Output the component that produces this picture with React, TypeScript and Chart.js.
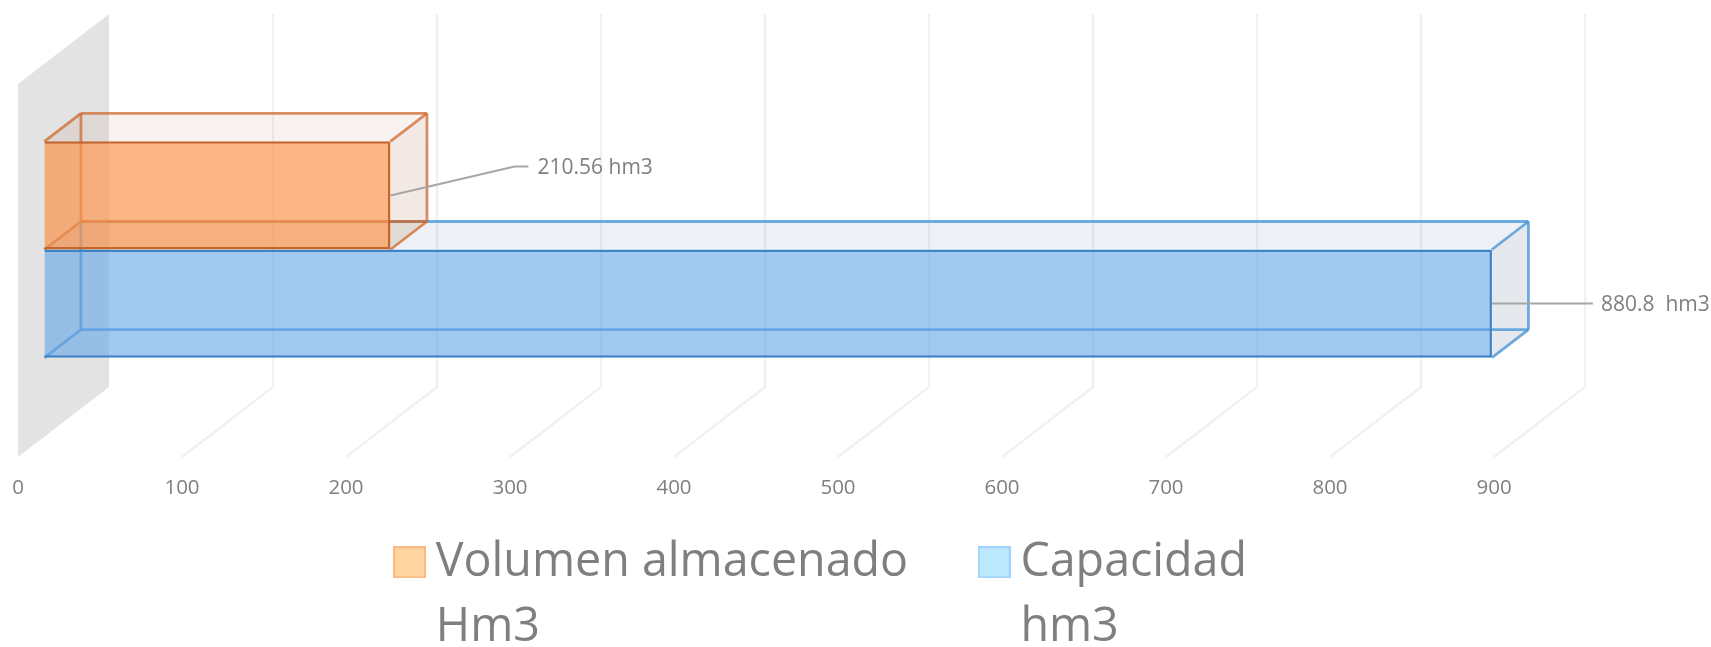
import React, { useEffect, useRef } from "react";
import { Chart, registerables } from "chart.js";

Chart.register(...registerables);

const categories = ["Embalse"];
const volumenName = ["Volumen almacenado", "Hm3"];
const capacidadName = ["Capacidad", "hm3"];
const volumenValues = [210.56];
const capacidadValues = [880.8];
const dataLabels = ["210.56 hm3", "880.8  hm3"];

const AXIS_MAX = 975.6;
const BAR_AXIS_MIN = -16.1;
const BAR_AXIS_MAX = 957.5;
const FONT = '"Open Sans"';
const DEPTH = { x: 36.5, y: -28 };
const WALL = { x: 91, y: -70, inX: 27, inY: 21 };
const LEGEND_PAD = 83;
const LEGEND_FONT = 46.6;

const STYLES = [
  {
    front: "rgba(251,150,80,0.7)",
    edge: "#c5652b",
    backEdge: "rgba(205,105,45,0.75)",
    top: "rgba(175,125,85,0.09)",
    side: "rgba(170,110,80,0.15)",
    left: "rgba(170,110,80,0.03)",
    bottom: "rgba(170,100,60,0.04)",
    legendFill: "#fed5a0",
    legendEdge: "#fbb985",
  },
  {
    front: "rgba(100,165,230,0.6)",
    edge: "#3f83c7",
    backEdge: "rgba(75,150,215,0.8)",
    top: "rgba(90,130,170,0.1)",
    side: "rgba(80,110,140,0.15)",
    left: "rgba(80,110,140,0.01)",
    bottom: "rgba(80,110,140,0)",
    legendFill: "#bde9fe",
    legendEdge: "#a2d3fc",
  },
];

// The legend measures its text by turning it into a string: measure the long first line only.
function legendLines(lines: string[]) {
  const copy: any = [...lines];
  copy.toString = () => lines[0];
  return copy;
}

function legendSwatch(fill: string, edge: string) {
  const c = document.createElement("canvas");
  c.width = 33;
  c.height = 32;
  const g = c.getContext("2d")!;
  g.fillStyle = fill;
  g.fillRect(0, 0, 33, 32);
  g.strokeStyle = edge;
  g.lineWidth = 2;
  g.strokeRect(1, 1, 31, 30);
  return c;
}

function poly(ctx: CanvasRenderingContext2D, pts: number[][], fill?: string) {
  ctx.beginPath();
  pts.forEach((p, i) => (i ? ctx.lineTo(p[0], p[1]) : ctx.moveTo(p[0], p[1])));
  ctx.closePath();
  if (fill) {
    ctx.fillStyle = fill;
    ctx.fill();
  }
}

function seg(ctx: CanvasRenderingContext2D, a: number[], b: number[]) {
  ctx.beginPath();
  ctx.moveTo(a[0], a[1]);
  ctx.lineTo(b[0], b[1]);
  ctx.stroke();
}

const scene3d = {
  id: "scene3d",
  beforeDraw(chart: any) {
    if (chart.legend) {
      chart.legend.top = 539 - LEGEND_PAD;
      chart.legend.bottom = 647;
      chart.legend.left = 406.5 - LEGEND_PAD;
    }
  },
  beforeDatasetsDraw(chart: any) {
    const { ctx, chartArea: area, scales } = chart;
    const x = scales.x;
    const top = area.top + WALL.inY;
    const bottom = area.bottom + WALL.inY;
    ctx.save();
    const x0 = x.getPixelForValue(0);
    poly(ctx, [[x0, top], [x0 + WALL.x, top + WALL.y], [x0 + WALL.x, bottom + WALL.y], [x0, bottom]], "#e3e3e3");
    ctx.strokeStyle = "#f1f1f1";
    ctx.lineWidth = 2.5;
    x.ticks.forEach((t: any) => {
      if (t.value === 0) return;
      const px = x.getPixelForValue(t.value);
      ctx.beginPath();
      ctx.moveTo(px, bottom);
      ctx.lineTo(px + WALL.x, bottom + WALL.y);
      ctx.lineTo(px + WALL.x, top + WALL.y);
      ctx.stroke();
    });
    [1, 0].forEach((i) => {
      const s = STYLES[i];
      const el = chart.getDatasetMeta(i).data[0];
      const l = el.base;
      const r = el.x;
      const t = el.y - el.height / 2;
      const b = el.y + el.height / 2;
      const d = DEPTH;
      poly(ctx, [[l, t], [r, t], [r + d.x, t + d.y], [l + d.x, t + d.y]], s.top);
      poly(ctx, [[r, t], [r + d.x, t + d.y], [r + d.x, b + d.y], [r, b]], s.side);
      poly(ctx, [[l, t], [l + d.x, t + d.y], [l + d.x, b + d.y], [l, b]], s.left);
      poly(ctx, [[l, b], [r, b], [r + d.x, b + d.y], [l + d.x, b + d.y]], s.bottom);
      ctx.strokeStyle = s.backEdge;
      ctx.lineWidth = 2.8;
      seg(ctx, [l + d.x, t + d.y], [r + d.x, t + d.y]);
      seg(ctx, [r + d.x, t + d.y], [r + d.x, b + d.y]);
      seg(ctx, [l + d.x, b + d.y], [r + d.x, b + d.y]);
      seg(ctx, [l + d.x, t + d.y], [l + d.x, b + d.y]);
      seg(ctx, [l, t], [l + d.x, t + d.y]);
      seg(ctx, [r, t], [r + d.x, t + d.y]);
      seg(ctx, [l, b], [l + d.x, b + d.y]);
      seg(ctx, [r, b], [r + d.x, b + d.y]);
    });
    ctx.restore();
  },
  afterDatasetsDraw(chart: any) {
    const { ctx } = chart;
    ctx.save();
    ctx.font = `21px ${FONT}`;
    ctx.textAlign = "left";
    ctx.textBaseline = "middle";
    ctx.lineWidth = 2;
    ctx.strokeStyle = "#a6a6a6";
    ctx.fillStyle = "#7f7f7f";
    const leaders = [
      { rise: -29, run: 124, elbow: 14, gap: 9 },
      { rise: 0, run: 50, elbow: 51, gap: 8 },
    ];
    dataLabels.forEach((label, i) => {
      const el = chart.getDatasetMeta(i).data[0];
      const o = leaders[i];
      ctx.beginPath();
      ctx.moveTo(el.x, el.y);
      ctx.lineTo(el.x + o.run, el.y + o.rise);
      ctx.lineTo(el.x + o.run + o.elbow, el.y + o.rise);
      ctx.stroke();
      ctx.fillText(label, el.x + o.run + o.elbow + o.gap, el.y + o.rise + 1.5);
    });
    ctx.restore();
  },
};

export default function App() {
  const ref = useRef<HTMLCanvasElement>(null);
  useEffect(() => {
    const chart = new Chart(ref.current!, {
      type: "bar",
      data: {
        labels: categories,
        datasets: [
          {
            label: volumenName.join(" "),
            data: volumenValues,
            xAxisID: "xBar",
            yAxisID: "y",
            backgroundColor: STYLES[0].front,
            borderColor: STYLES[0].edge,
            borderWidth: 2.5,
          },
          {
            label: capacidadName.join(" "),
            data: capacidadValues,
            xAxisID: "xBar",
            yAxisID: "y",
            backgroundColor: STYLES[1].front,
            borderColor: STYLES[1].edge,
            borderWidth: 2.5,
          },
        ],
      },
      options: {
        indexAxis: "y",
        responsive: false,
        animation: false,
        events: [],
        categoryPercentage: 0.58,
        barPercentage: 1,
        layout: { padding: { left: 18, right: 93, top: 63, bottom: 0 } },
        scales: {
          x: {
            type: "linear",
            position: "bottom",
            min: 0,
            max: AXIS_MAX,
            grid: { display: false, drawTicks: true, tickLength: 40 },
            border: { display: false },
            afterFit(scale: any) {
              // the legend's layout height is its font size + padding + 10
              scale.height = 211 - (LEGEND_FONT + LEGEND_PAD + 10);
            },
            ticks: {
              stepSize: 100,
              includeBounds: false,
              autoSkip: false,
              maxRotation: 0,
              padding: 0,
              color: "#7f7f7f",
              font: { family: FONT, size: 20.5 },
            },
          },
          xBar: {
            type: "linear",
            position: "bottom",
            display: false,
            min: BAR_AXIS_MIN,
            max: BAR_AXIS_MAX,
          },
          y: { type: "category", display: false },
        },
        plugins: {
          tooltip: { enabled: false },
          title: { display: false },
          legend: {
            display: true,
            position: "bottom",
            align: "start",
            fullSize: false,
            labels: {
              usePointStyle: true,
              pointStyleWidth: 6,
              boxWidth: 6,
              boxHeight: 32,
              padding: LEGEND_PAD,
              color: "#7f7f7f",
              font: { family: FONT, size: LEGEND_FONT, lineHeight: 1.395 },
              generateLabels: () =>
                [volumenName, capacidadName].map((lines, i) => ({
                  text: legendLines(lines),
                  fontColor: "#7f7f7f",
                  pointStyle: legendSwatch(STYLES[i].legendFill, STYLES[i].legendEdge),
                  datasetIndex: i,
                  hidden: false,
                })) as any,
            },
          },
        },
      } as any,
      plugins: [scene3d as any],
    });
    return () => chart.destroy();
  }, []);
  return (
    <div style={{ position: "absolute", left: 0, top: 0, width: 1711, height: 647, background: "#fff" }}>
      <canvas ref={ref} width={1711} height={647} style={{ display: "block" }} />
    </div>
  );
}
